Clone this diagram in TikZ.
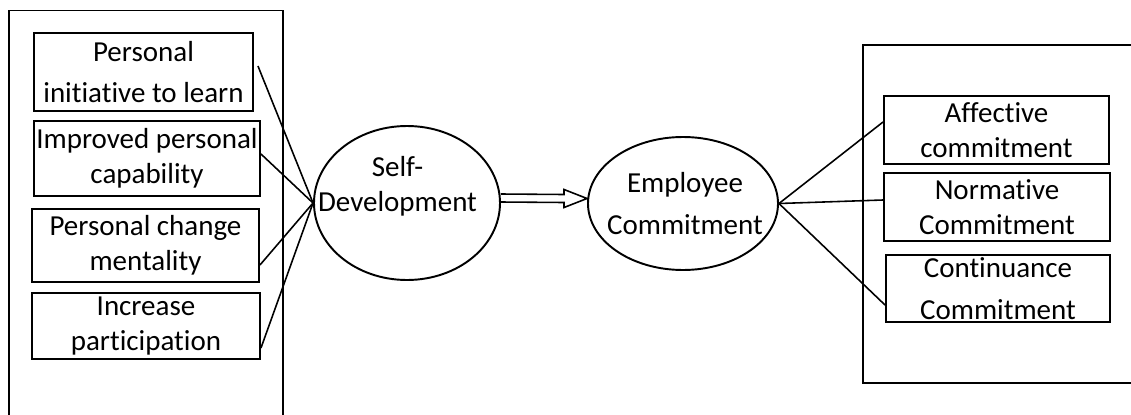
\documentclass[tikz,border=0pt]{standalone}
\usepackage{fontspec}
\setmainfont{Carlito}[Ligatures={NoCommon}]
\usetikzlibrary{calc, shapes.geometric}

\begin{document}
\begin{tikzpicture}[
        factor/.style={rectangle, draw=black, line width=1.1pt, inner sep=1pt, align=center},
        construct/.style={ellipse, draw=black, line width=1.1pt, inner sep=0pt},
        link/.style={line width=0.9pt},
        font=\fontsize{16.5}{20}\selectfont]

        \useasboundingbox (0,0) rectangle (22.62,-8.28);

        %% Frames (both run off the edge)
        \draw [line width=1.1pt] (0.18,-8.6) -- (0.18,-0.21) -- (5.66,-0.21) -- (5.66,-8.6);
        \draw [line width=1.1pt] (22.9,-0.9) -- (17.26,-0.9) -- (17.26,-7.66) -- (22.9,-7.66);

        %% Left boxes
        \node (initiative) [factor, minimum width=4.38cm, minimum height=1.56cm] at (2.87,-1.44) {Personal\\[3.5pt]initiative to learn};
        \node (capability) [factor, minimum width=4.52cm, minimum height=1.50cm] at (2.94,-3.17) {Improved personal\\capability};
        \node (mentality) [factor, minimum width=4.54cm, minimum height=1.46cm] at (2.91,-4.91) {Personal change\\mentality};
        \node (participation) [factor, minimum width=4.56cm, minimum height=1.32cm] at (2.92,-6.52) {Increase\\participation};

        %% Ellipses
        \node (sd) [construct, minimum width=3.72cm, minimum height=3.08cm] at (8.14,-4.06) {};
        \node (sdtext) [align=center] at ($(sd.center)+(-0.19,0.33)$) {Self-\\Development};
        \node (ec) [construct, minimum width=3.80cm, minimum height=2.66cm] at (13.66,-4.07) {};
        \node (ectext) [align=center] at ($(ec.center)+(0.04,0)$) {Employee\\[3.5pt]Commitment};

        %% Right boxes
        \node (affective) [factor, minimum width=4.50cm, minimum height=1.36cm] at (19.93,-2.60) {Affective\\commitment};
        \node (normative) [factor, minimum width=4.52cm, minimum height=1.36cm] at (19.94,-4.14) {Normative\\Commitment};
        \node (continuance) [factor, minimum width=4.48cm, minimum height=1.34cm] at (19.96,-5.77) {Continuance\\[3.5pt]Commitment};

        %% Lines into Self-Development
        \draw [link] ($(initiative.east)+(0.08,0.12)$) -- (sd.west);
        \draw [link] ($(capability.east)+(0,0.09)$) -- (sd.west);
        \draw [link] ($(mentality.east)+(0,-0.39)$) -- (sd.west);
        \draw [link] ($(participation.east)+(0,-0.44)$) -- (sd.west);

        %% Hollow arrow between the ellipses
        \draw [link] ($(sd.east)+(0,0.18)$) -- ($(ec.west)+(-0.46,0.18)$) -- ($(ec.west)+(-0.46,0.28)$)
            -- ($(ec.west)+(0,0.1)$) -- ($(ec.west)+(-0.46,-0.08)$) -- ($(ec.west)+(-0.46,0.02)$) -- ($(sd.east)+(0,0.02)$);

        %% Lines out of Employee Commitment
        \draw [link] (ec.east) -- ($(affective.west)+(0,0.16)$);
        \draw [link] (ec.east) -- ($(normative.west)+(0,0.14)$);
        \draw [link] (ec.east) -- ($(continuance.west)+(0,-0.33)$);

\end{tikzpicture}
\end{document}
